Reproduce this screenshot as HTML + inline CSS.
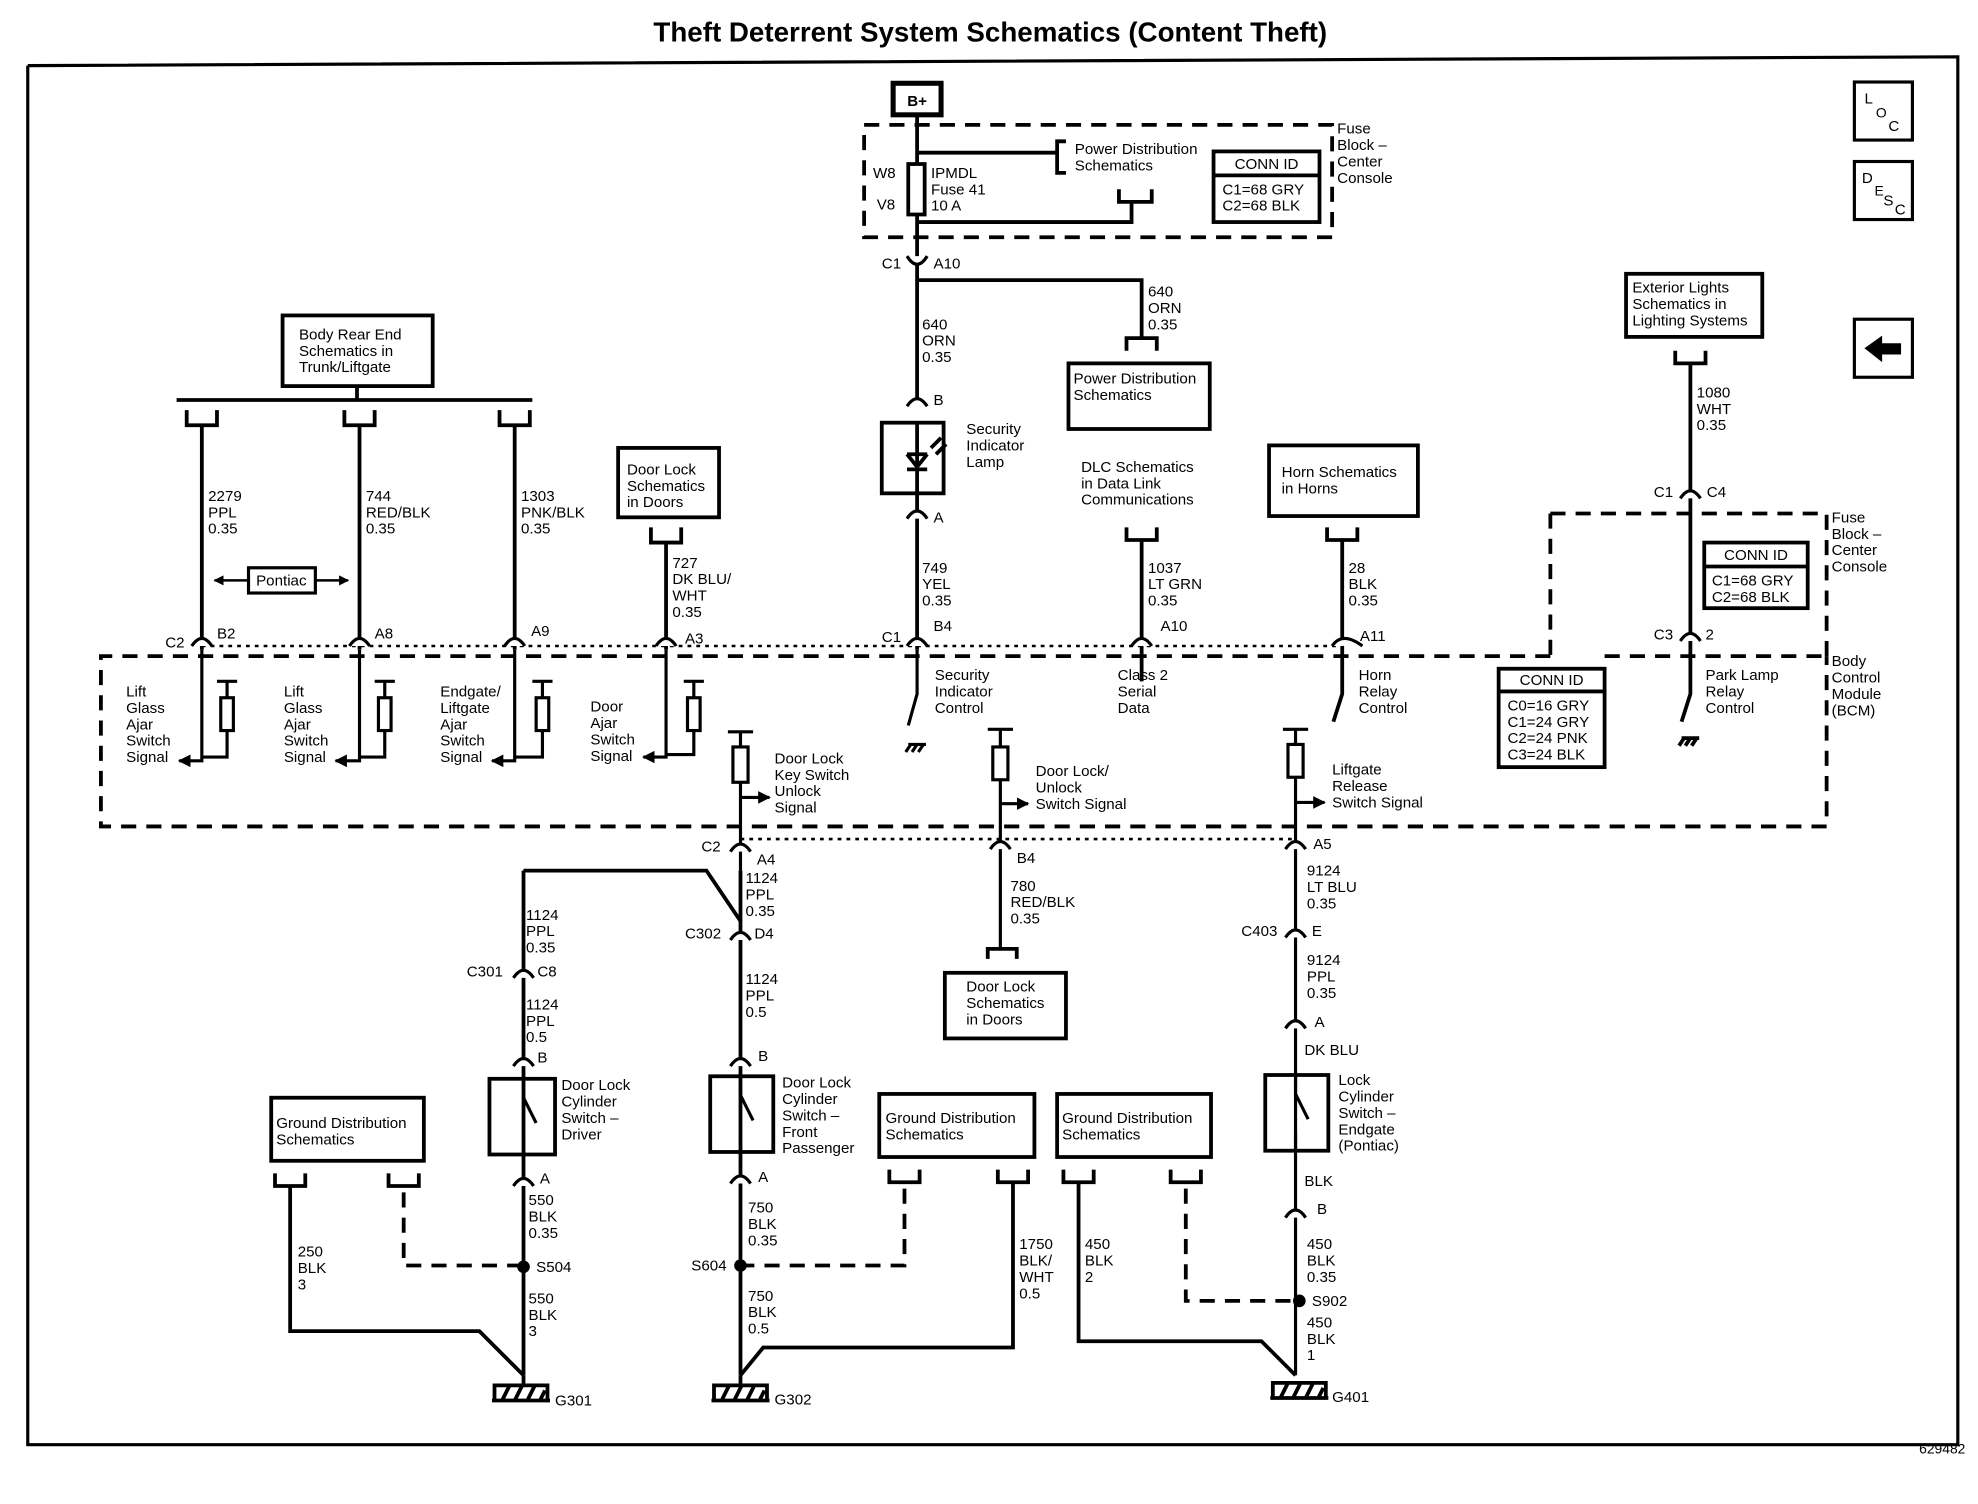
<!DOCTYPE html>
<html><head><meta charset="utf-8"><style>
html,body{margin:0;padding:0;background:#fff;}
svg{display:block}
text{font-family:"Liberation Sans",Arial,sans-serif;font-size:12px;fill:#000;}
</style></head><body>
<svg width="1978" height="1504" viewBox="0 0 1568 1192" preserveAspectRatio="none" xmlns="http://www.w3.org/2000/svg">
<defs>
<marker id="ar" viewBox="0 0 10 10" refX="9" refY="5" markerWidth="4" markerHeight="4" orient="auto"><path d="M0 0L10 5L0 10z" fill="#000"/></marker>
</defs>
<g stroke="#000" stroke-width="3" fill="none">
<path d="M22 52 L22 1145 L1552 1145 L1552 45 L22 52" stroke-width="2.5"/>
<rect x="1470" y="65" width="46" height="46" stroke-width="2.5"/>
<rect x="1470" y="128" width="46" height="46" stroke-width="2.5"/>
<rect x="1470" y="253" width="46" height="46" stroke-width="2.5"/>
<rect x="708" y="66" width="38" height="25" stroke-width="4"/>
<rect x="685" y="99" width="371" height="89" stroke-dasharray="12 8"/>
<path d="M727 91 V315"/>
<rect x="720" y="130" width="13" height="40" fill="#fff"/>
<path d="M727 121 H838 M845 112 H838 V137 H845"/>
<path d="M727 176 H897 V160 M887 150 V160 H913 V150"/>
<rect x="962" y="120" width="84" height="56"/>
<path d="M962 139 H1046"/>
<path d="M727 222 H905 V268 M893 278 V268 H917 V278"/>
<rect x="847" y="288" width="112" height="52"/>
<rect x="699" y="335" width="49" height="56"/>
<path d="M727 335 V391 M719 360 H735 M719 360 L727 370 L735 360 M719 372 H735 M738 355 L746 347 M742 360 L750 352"/>
<path d="M727 391 V515"/>
<rect x="224" y="250" width="119" height="56"/>
<path d="M283 306 V317 M140 317 H422"/>
<path d="M148 325 V337 H172 V325 M273 325 V337 H297 V325 M396 325 V337 H420 V325"/>
<path d="M160 337 V515 M285 337 V515 M408 337 V515"/>
<rect x="197" y="450" width="53" height="20" stroke-width="2.5"/>
<path d="M197 460 H170" marker-end="url(#ar)" stroke-width="2"/>
<path d="M250 460 H276" marker-end="url(#ar)" stroke-width="2"/>
<rect x="490" y="355" width="80" height="55"/>
<path d="M516 418 V430 H540 V418 M528 430 V515"/>
<path d="M160 512 H1064" stroke-dasharray="3 4" stroke-width="2"/>
<path d="M1229 520 H80 V655 H1448 V520 M1272 520 H1448" stroke-dasharray="12 8"/>
<path d="M1229 407 H1448 V520 M1229 407 V520" stroke-dasharray="12 8"/>
<g stroke-width="2.5">
<path d="M160 515 V603 H142" marker-end="url(#ar)"/>
<path d="M172 540 H188 M180 540 V600 H160"/><rect x="175" y="553" width="10" height="26" fill="#fff"/>
<path d="M285 515 V603 H266" marker-end="url(#ar)"/>
<path d="M297 540 H313 M305 540 V600 H285"/><rect x="300" y="553" width="10" height="26" fill="#fff"/>
<path d="M408 515 V603 H390" marker-end="url(#ar)"/>
<path d="M422 540 H438 M430 540 V600 H408"/><rect x="425" y="553" width="10" height="26" fill="#fff"/>
<path d="M528 515 V600 H510" marker-end="url(#ar)"/>
<path d="M542 540 H558 M550 540 V598 H528"/><rect x="545" y="553" width="10" height="26" fill="#fff"/>
</g>
<path d="M727 515 V550 L720 575 M720 590 H734 M722 590 L718 596 M727 590 L723 596 M732 590 L728 596" stroke-width="2.5"/>
<path d="M905 428 V540"/>
<path d="M893 418 V428 H917 V418"/>
<rect x="1006" y="353" width="118" height="56"/>
<path d="M1052 418 V428 H1076 V418 M1064 428 V550 L1057 572" />
<rect x="1289" y="217" width="108" height="50"/>
<path d="M1328 278 V288 H1352 V278 M1340 288 V550 L1333 572 M1333 585 H1347 M1335 585 L1331 591 M1340 585 L1336 591 M1345 585 L1341 591" />
<rect x="1351" y="430" width="82" height="52"/><path d="M1351 449 H1433"/>
<rect x="1188" y="530" width="84" height="78"/><path d="M1188 548 H1272"/>
<g stroke-width="2.5">
<path d="M577 580 H597 M587 580 V690"/><rect x="581" y="592" width="12" height="28" fill="#fff"/>
<path d="M587 632 H610" marker-end="url(#ar)"/>
<path d="M783 578 H803 M793 578 V752"/><rect x="787" y="592" width="12" height="26" fill="#fff"/>
<path d="M793 637 H815" marker-end="url(#ar)"/>
<path d="M1017 578 H1037 M1027 578 V1090"/><rect x="1021" y="590" width="12" height="26" fill="#fff"/>
<path d="M1027 636 H1050" marker-end="url(#ar)"/>
</g>
<path d="M587 665 H1027" stroke-dasharray="3 4" stroke-width="2"/>
<path d="M587 690 V1090"/>
<path d="M415 690 H560 L587 730"/>
<path d="M415 690 V1090"/>
<path d="M783 760 V752 H806 V760"/><rect x="749" y="771" width="96" height="52"/>
<rect x="388" y="855" width="52" height="60"/><path d="M415 855 V870 L425 890 M415 900 V915" stroke-width="2.5"/>
<rect x="563" y="853" width="50" height="60"/><path d="M587 853 V868 L597 888 M587 898 V913" stroke-width="2.5"/>
<rect x="1003" y="852" width="50" height="60"/><path d="M1027 852 V867 L1037 887 M1027 897 V912" stroke-width="2.5"/>
<rect x="215" y="870" width="121" height="50"/>
<path d="M218 930 V940 H242 V930 M308 930 V940 H332 V930"/>
<path d="M230 940 V1055 H380 L415 1090"/>
<path d="M320 945 V1003 H415" stroke-dasharray="12 8"/>
<rect x="697" y="867" width="123" height="50"/>
<path d="M705 927 V937 H729 V927 M791 927 V937 H815 V927"/>
<path d="M717 942 V1003 H587" stroke-dasharray="12 8"/>
<path d="M803 937 V1068 H605 L587 1090"/>
<rect x="838" y="867" width="122" height="50"/>
<path d="M843 927 V937 H867 V927 M928 927 V937 H952 V927"/>
<path d="M855 937 V1063 H1000 L1027 1090"/>
<path d="M940 942 V1031 H1027" stroke-dasharray="12 8"/>
<path d="M390 1110 H436 M398 1110 L404 1098 M408 1110 L414 1098 M418 1110 L424 1098 M428 1110 L432 1102 M392 1110 V1098 H434 V1110 M415 1090 V1098"/>
<path d="M564 1110 H610 M572 1110 L578 1098 M582 1110 L588 1098 M592 1110 L598 1098 M602 1110 L606 1102 M566 1110 V1098 H608 V1110 M587 1090 V1098"/>
<path d="M1007 1108 H1053 M1015 1108 L1021 1096 M1025 1108 L1031 1096 M1035 1108 L1041 1096 M1045 1108 L1049 1100 M1009 1108 V1096 H1051 V1108"/>
<g stroke-width="2.5" fill="#fff">
<path d="M719 203 Q727 216 735 203"/>
<path d="M719 322 Q727 310 735 322"/><path d="M719 411 Q727 399 735 411"/>
<path d="M152 512 Q160 500 168 512"/><path d="M277 512 Q285 500 293 512"/><path d="M400 512 Q408 500 416 512"/><path d="M520 512 Q528 500 536 512"/>
<path d="M719 512 Q727 500 735 512"/><path d="M897 512 Q905 500 913 512"/><path d="M1056 512 Q1064 500 1080 512"/>
<path d="M1332 395 Q1340 383 1348 395"/><path d="M1332 508 Q1340 496 1348 508"/>
<path d="M579 675 Q587 663 595 675"/><path d="M785 673 Q793 661 801 673"/><path d="M1019 673 Q1027 661 1035 673"/>
<path d="M579 745 Q587 733 595 745"/><path d="M407 775 Q415 763 423 775"/><path d="M1019 743 Q1027 731 1035 743"/>
<path d="M407 845 Q415 833 423 845"/><path d="M579 845 Q587 833 595 845"/><path d="M1019 815 Q1027 803 1035 815"/>
<path d="M407 940 Q415 928 423 940"/><path d="M579 938 Q587 926 595 938"/><path d="M1019 965 Q1027 953 1035 965"/>
</g>
</g>
<g fill="#000">
<circle cx="415" cy="1004" r="5"/><circle cx="587" cy="1003" r="5"/><circle cx="1030" cy="1031" r="5"/>
<path d="M1478 276 L1492 266 V272 H1507 V281 H1492 V287z"/>
</g>
<text x="785" y="33" text-anchor="middle" style="font-size:22px;font-weight:bold">Theft Deterrent System Schematics (Content Theft)</text>
<text x="1558" y="1152" text-anchor="end" style="font-size:11px">629482</text>
<text x="1478" y="82">L</text><text x="1487" y="93" style="font-size:11px">O</text><text x="1497" y="104">C</text>
<text x="1476" y="145">D</text><text x="1486" y="155" style="font-size:11px">E</text><text x="1493" y="163">S</text><text x="1502" y="170">C</text>
<text x="727" y="84" text-anchor="middle" style="font-weight:bold">B+</text>
<text x="692" y="141">W8</text><text x="695" y="166">V8</text>
<text x="738" y="141">IPMDL<tspan x="738" dy="13">Fuse 41</tspan><tspan x="738" dy="13">10 A</tspan></text>
<text x="852" y="122">Power Distribution<tspan x="852" dy="13">Schematics</tspan></text>
<text x="1004" y="134" text-anchor="middle">CONN ID</text>
<text x="969" y="154">C1=68 GRY<tspan x="969" dy="13">C2=68 BLK</tspan></text>
<text x="1060" y="106">Fuse<tspan x="1060" dy="13">Block –</tspan><tspan x="1060" dy="13">Center</tspan><tspan x="1060" dy="13">Console</tspan></text>
<text x="699" y="213">C1</text><text x="740" y="213">A10</text>
<text x="910" y="235">640<tspan x="910" dy="13">ORN</tspan><tspan x="910" dy="13">0.35</tspan></text>
<text x="851" y="304">Power Distribution<tspan x="851" dy="13">Schematics</tspan></text>
<text x="731" y="261">640<tspan x="731" dy="13">ORN</tspan><tspan x="731" dy="13">0.35</tspan></text>
<text x="740" y="321">B</text><text x="740" y="414">A</text>
<text x="766" y="344">Security<tspan x="766" dy="13">Indicator</tspan><tspan x="766" dy="13">Lamp</tspan></text>
<text x="731" y="454">749<tspan x="731" dy="13">YEL</tspan><tspan x="731" dy="13">0.35</tspan></text>
<text x="699" y="509">C1</text><text x="740" y="500">B4</text>
<text x="741" y="539">Security<tspan x="741" dy="13">Indicator</tspan><tspan x="741" dy="13">Control</tspan></text>
<text x="857" y="374">DLC Schematics<tspan x="857" dy="13">in Data Link</tspan><tspan x="857" dy="13">Communications</tspan></text>
<text x="910" y="454">1037<tspan x="910" dy="13">LT GRN</tspan><tspan x="910" dy="13">0.35</tspan></text>
<text x="920" y="500">A10</text>
<text x="886" y="539">Class 2<tspan x="886" dy="13">Serial</tspan><tspan x="886" dy="13">Data</tspan></text>
<text x="1016" y="378">Horn Schematics<tspan x="1016" dy="13">in Horns</tspan></text>
<text x="1069" y="454">28<tspan x="1069" dy="13">BLK</tspan><tspan x="1069" dy="13">0.35</tspan></text>
<text x="1078" y="508">A11</text>
<text x="1077" y="539">Horn<tspan x="1077" dy="13">Relay</tspan><tspan x="1077" dy="13">Control</tspan></text>
<text x="1294" y="232">Exterior Lights<tspan x="1294" dy="13">Schematics in</tspan><tspan x="1294" dy="13">Lighting Systems</tspan></text>
<text x="1345" y="315">1080<tspan x="1345" dy="13">WHT</tspan><tspan x="1345" dy="13">0.35</tspan></text>
<text x="1311" y="394">C1</text><text x="1353" y="394">C4</text>
<text x="1452" y="414">Fuse<tspan x="1452" dy="13">Block –</tspan><tspan x="1452" dy="13">Center</tspan><tspan x="1452" dy="13">Console</tspan></text>
<text x="1392" y="444" text-anchor="middle">CONN ID</text>
<text x="1357" y="464">C1=68 GRY<tspan x="1357" dy="13">C2=68 BLK</tspan></text>
<text x="1311" y="507">C3</text><text x="1352" y="507">2</text>
<text x="1352" y="539">Park Lamp<tspan x="1352" dy="13">Relay</tspan><tspan x="1352" dy="13">Control</tspan></text>
<text x="1452" y="528">Body<tspan x="1452" dy="13">Control</tspan><tspan x="1452" dy="13">Module</tspan><tspan x="1452" dy="13">(BCM)</tspan></text>
<text x="1230" y="543" text-anchor="middle">CONN ID</text>
<text x="1195" y="563">C0=16 GRY<tspan x="1195" dy="13">C1=24 GRY</tspan><tspan x="1195" dy="13">C2=24 PNK</tspan><tspan x="1195" dy="13">C3=24 BLK</tspan></text>
<text x="237" y="269">Body Rear End<tspan x="237" dy="13">Schematics in</tspan><tspan x="237" dy="13">Trunk/Liftgate</tspan></text>
<text x="165" y="397">2279<tspan x="165" dy="13">PPL</tspan><tspan x="165" dy="13">0.35</tspan></text>
<text x="290" y="397">744<tspan x="290" dy="13">RED/BLK</tspan><tspan x="290" dy="13">0.35</tspan></text>
<text x="413" y="397">1303<tspan x="413" dy="13">PNK/BLK</tspan><tspan x="413" dy="13">0.35</tspan></text>
<text x="223" y="464" text-anchor="middle">Pontiac</text>
<text x="497" y="376">Door Lock<tspan x="497" dy="13">Schematics</tspan><tspan x="497" dy="13">in Doors</tspan></text>
<text x="533" y="450">727<tspan x="533" dy="13">DK BLU/</tspan><tspan x="533" dy="13">WHT</tspan><tspan x="533" dy="13">0.35</tspan></text>
<text x="131" y="513">C2</text><text x="172" y="506">B2</text><text x="297" y="506">A8</text><text x="421" y="504">A9</text><text x="543" y="510">A3</text>
<text x="100" y="552">Lift<tspan x="100" dy="13">Glass</tspan><tspan x="100" dy="13">Ajar</tspan><tspan x="100" dy="13">Switch</tspan><tspan x="100" dy="13">Signal</tspan></text>
<text x="225" y="552">Lift<tspan x="225" dy="13">Glass</tspan><tspan x="225" dy="13">Ajar</tspan><tspan x="225" dy="13">Switch</tspan><tspan x="225" dy="13">Signal</tspan></text>
<text x="349" y="552">Endgate/<tspan x="349" dy="13">Liftgate</tspan><tspan x="349" dy="13">Ajar</tspan><tspan x="349" dy="13">Switch</tspan><tspan x="349" dy="13">Signal</tspan></text>
<text x="468" y="564">Door<tspan x="468" dy="13">Ajar</tspan><tspan x="468" dy="13">Switch</tspan><tspan x="468" dy="13">Signal</tspan></text>
<text x="614" y="605">Door Lock<tspan x="614" dy="13">Key Switch</tspan><tspan x="614" dy="13">Unlock</tspan><tspan x="614" dy="13">Signal</tspan></text>
<text x="821" y="615">Door Lock/<tspan x="821" dy="13">Unlock</tspan><tspan x="821" dy="13">Switch Signal</tspan></text>
<text x="1056" y="614">Liftgate<tspan x="1056" dy="13">Release</tspan><tspan x="1056" dy="13">Switch Signal</tspan></text>
<text x="556" y="675">C2</text><text x="600" y="685">A4</text><text x="806" y="684">B4</text><text x="1041" y="673">A5</text>
<text x="591" y="700">1124<tspan x="591" dy="13">PPL</tspan><tspan x="591" dy="13">0.35</tspan></text>
<text x="417" y="729">1124<tspan x="417" dy="13">PPL</tspan><tspan x="417" dy="13">0.35</tspan></text>
<text x="801" y="706">780<tspan x="801" dy="13">RED/BLK</tspan><tspan x="801" dy="13">0.35</tspan></text>
<text x="1036" y="694">9124<tspan x="1036" dy="13">LT BLU</tspan><tspan x="1036" dy="13">0.35</tspan></text>
<text x="543" y="744">C302</text><text x="598" y="744">D4</text>
<text x="370" y="774">C301</text><text x="426" y="774">C8</text>
<text x="984" y="742">C403</text><text x="1040" y="742">E</text>
<text x="591" y="780">1124<tspan x="591" dy="13">PPL</tspan><tspan x="591" dy="13">0.5</tspan></text>
<text x="417" y="800">1124<tspan x="417" dy="13">PPL</tspan><tspan x="417" dy="13">0.5</tspan></text>
<text x="1036" y="765">9124<tspan x="1036" dy="13">PPL</tspan><tspan x="1036" dy="13">0.35</tspan></text>
<text x="766" y="786">Door Lock<tspan x="766" dy="13">Schematics</tspan><tspan x="766" dy="13">in Doors</tspan></text>
<text x="1042" y="814">A</text><text x="1034" y="836">DK BLU</text>
<text x="426" y="842">B</text><text x="601" y="841">B</text>
<text x="445" y="864">Door Lock<tspan x="445" dy="13">Cylinder</tspan><tspan x="445" dy="13">Switch –</tspan><tspan x="445" dy="13">Driver</tspan></text>
<text x="620" y="862">Door Lock<tspan x="620" dy="13">Cylinder</tspan><tspan x="620" dy="13">Switch –</tspan><tspan x="620" dy="13">Front</tspan><tspan x="620" dy="13">Passenger</tspan></text>
<text x="1061" y="860">Lock<tspan x="1061" dy="13">Cylinder</tspan><tspan x="1061" dy="13">Switch –</tspan><tspan x="1061" dy="13">Endgate</tspan><tspan x="1061" dy="13">(Pontiac)</tspan></text>
<text x="219" y="894">Ground Distribution<tspan x="219" dy="13">Schematics</tspan></text>
<text x="702" y="890">Ground Distribution<tspan x="702" dy="13">Schematics</tspan></text>
<text x="842" y="890">Ground Distribution<tspan x="842" dy="13">Schematics</tspan></text>
<text x="428" y="938">A</text><text x="601" y="937">A</text>
<text x="1034" y="940">BLK</text><text x="1044" y="962">B</text>
<text x="419" y="955">550<tspan x="419" dy="13">BLK</tspan><tspan x="419" dy="13">0.35</tspan></text>
<text x="593" y="961">750<tspan x="593" dy="13">BLK</tspan><tspan x="593" dy="13">0.35</tspan></text>
<text x="1036" y="990">450<tspan x="1036" dy="13">BLK</tspan><tspan x="1036" dy="13">0.35</tspan></text>
<text x="236" y="996">250<tspan x="236" dy="13">BLK</tspan><tspan x="236" dy="13">3</tspan></text>
<text x="808" y="990">1750<tspan x="808" dy="13">BLK/</tspan><tspan x="808" dy="13">WHT</tspan><tspan x="808" dy="13">0.5</tspan></text>
<text x="860" y="990">450<tspan x="860" dy="13">BLK</tspan><tspan x="860" dy="13">2</tspan></text>
<text x="425" y="1008">S504</text><text x="548" y="1007">S604</text><text x="1040" y="1035">S902</text>
<text x="419" y="1033">550<tspan x="419" dy="13">BLK</tspan><tspan x="419" dy="13">3</tspan></text>
<text x="593" y="1031">750<tspan x="593" dy="13">BLK</tspan><tspan x="593" dy="13">0.5</tspan></text>
<text x="1036" y="1052">450<tspan x="1036" dy="13">BLK</tspan><tspan x="1036" dy="13">1</tspan></text>
<text x="440" y="1114">G301</text><text x="614" y="1113">G302</text><text x="1056" y="1111">G401</text>
</svg>
</body></html>
